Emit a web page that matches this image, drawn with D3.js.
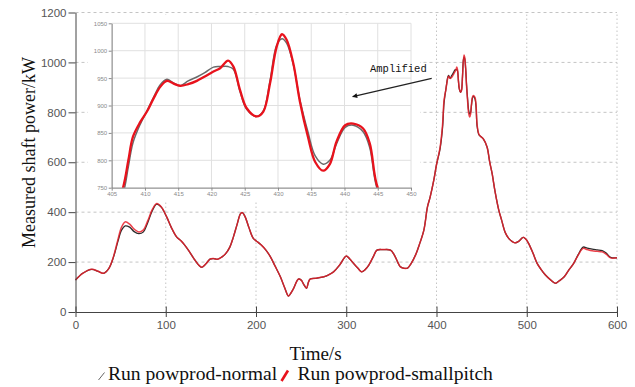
<!DOCTYPE html>
<html>
<head>
<meta charset="utf-8">
<script src="https://cdn.jsdelivr.net/npm/d3@7"></script>
<style>
  html, body { margin: 0; padding: 0; background: #fff; }
  svg { display: block; }
</style>
</head>
<body>
<svg id="chart" width="635" height="387"></svg>
<script>
// Time stamps (s) shared by both runs
const times = [
  0, 8, 18, 25, 31, 37, 42, 47, 51, 55,
  60, 65, 70, 75, 80, 85, 90, 95, 101, 106,
  112, 117, 121, 126, 131, 136, 140, 145, 149, 153,
  157, 162, 166, 171, 175, 179, 183, 185, 188, 192,
  197, 202, 206, 211, 216, 221, 227, 232, 236, 239,
  242, 245, 247, 250, 253, 256, 258, 260, 266, 275,
  280, 286, 293, 300, 304, 308, 313, 317, 321, 325,
  330, 334, 341, 349, 353, 357, 360, 364, 368, 372,
  377, 381, 386, 390, 393, 397, 400, 404, 406.7, 407.5,
  408.2, 409.3, 410.3, 411.3, 412.3, 413.3, 414.3, 415.3, 416.5, 417.8,
  419, 420.3, 421.3, 422.5, 423.3, 424.3, 425.3, 426.8, 427.8, 428.8,
  429.8, 430.6, 431.3, 432.3, 433.3, 434.5, 435.6, 436.8, 437.8, 438.8,
  440.1, 441.3, 442.8, 443.8, 445, 447, 449, 452, 456, 459,
  461.6, 465, 469, 472, 476, 480, 484, 487, 491, 496,
  499, 502, 507, 511.5, 516, 520.7, 526, 531.8, 536, 541,
  546, 552, 557, 562.5, 567, 572.5, 578, 583.6, 588, 592.8,
  600
];

// Measured shaft power (kW), run "powprod-normal"
const normalKW = [
  128, 155, 171, 163, 155, 175, 219, 283, 328, 345,
  340, 322, 314, 320, 358, 405, 432, 420, 381, 340,
  301, 285, 268, 243, 215, 190, 179, 195, 212, 214,
  211, 220, 232, 260, 301, 350, 395, 398, 381, 340,
  295, 280, 268, 248, 221, 185, 141, 95, 64, 78,
  97, 122, 132, 128, 110, 95, 118, 132, 135, 141,
  148, 161, 190, 224, 212, 195, 175, 161, 170, 188,
  222, 248, 250, 248, 230, 200, 181, 175, 176, 195,
  230, 270, 328, 421, 461, 528, 590, 655, 738, 788,
  832, 866, 890, 915, 938, 948, 941, 936, 945, 952,
  960, 970, 971, 971, 966, 925, 893, 880, 890, 945,
  1010, 1022, 1014, 975, 910, 852, 808, 793, 800, 830,
  860, 864, 852, 823, 745, 710, 703, 693, 661, 600,
  555, 480, 408, 370, 320, 295, 282, 277, 283, 299,
  292, 275, 235, 195, 170, 148, 130, 115, 125, 139,
  165, 195, 230, 260, 256, 252, 249, 246, 236, 219,
  217
];

// Measured shaft power (kW), run "powprod-smallpitch"
const smallpitchKW = [
  128, 155, 171, 163, 155, 175, 221, 290, 340, 361,
  352, 332, 321, 328, 365, 410, 435, 422, 381, 340,
  301, 285, 268, 243, 215, 190, 179, 195, 212, 214,
  211, 220, 232, 260, 301, 350, 395, 398, 381, 340,
  295, 280, 268, 248, 221, 185, 141, 95, 64, 78,
  97, 122, 132, 128, 110, 95, 118, 132, 135, 141,
  148, 161, 190, 224, 212, 195, 175, 161, 170, 188,
  222, 248, 250, 248, 230, 200, 181, 175, 176, 195,
  230, 270, 328, 421, 461, 528, 590, 661, 750, 800,
  843, 870, 889, 913, 934, 945, 940, 936, 939, 945,
  953, 962, 968, 982, 971, 928, 895, 880, 889, 940,
  1007, 1030, 1020, 977, 907, 843, 797, 781, 793, 834,
  864, 867, 858, 831, 750, 712, 703, 693, 661, 600,
  555, 480, 408, 370, 320, 295, 282, 277, 283, 299,
  292, 275, 235, 195, 170, 148, 130, 115, 125, 139,
  165, 195, 228, 255, 250, 245, 243, 241, 232, 217,
  217
];

const xTicks = [0, 100, 200, 300, 400, 500, 600];
const yTicks = [0, 200, 400, 600, 800, 1000, 1200];
const insetXTicks = [405, 410, 415, 420, 425, 430, 435, 440, 445, 450];
const insetYTicks = [750, 800, 850, 900, 950, 1000, 1050];
const seriesNames = ["Run powprod-normal", "Run powprod-smallpitch"];
const xTitle = "Time/s";
const yTitle = "Measured shaft power/kW";
const calloutText = "Amplified";

const normalPts = times.map((t, i) => ({ t, v: normalKW[i] }));
const smallPts = times.map((t, i) => ({ t, v: smallpitchKW[i] }));

const svg = d3.select("#chart");
const serif = "'Liberation Serif', 'Times New Roman', serif";
const sans = "'Liberation Sans', Arial, sans-serif";
const plain = d3.format("d");

// ---------- main panel ----------
const x = d3.scaleLinear().domain([0, 600]).range([75.5, 617]);
const y = d3.scaleLinear().domain([0, 1200]).range([312, 12.5]);

const grid = svg.append("g");
grid.selectAll("line.h").data(yTicks.filter(d => d > 0)).join("line")
  .attr("x1", x(0)).attr("x2", x(600))
  .attr("y1", d => y(d)).attr("y2", d => y(d))
  .attr("stroke", "#c4c4c4").attr("stroke-width", 1)
  .attr("stroke-dasharray", "3,3");
grid.selectAll("line.v").data(xTicks.filter(d => d > 0)).join("line")
  .attr("x1", d => x(d)).attr("x2", d => x(d))
  .attr("y1", y(0)).attr("y2", y(1200))
  .attr("stroke", "#c4c4c4").attr("stroke-width", 1)
  .attr("stroke-dasharray", "1.5,2.5");

const smooth = d3.curveCatmullRom.alpha(0.5);
const mainLine = d3.line().x(d => x(d.t)).y(d => y(d.v)).curve(smooth);
svg.append("path").datum(normalPts).attr("d", mainLine)
  .attr("fill", "none").attr("stroke", "#2b2b2b").attr("stroke-width", 1.3);
svg.append("path").datum(smallPts).attr("d", mainLine)
  .attr("fill", "none").attr("stroke", "#e8212b").attr("stroke-width", 1.5)
  .attr("stroke-opacity", 0.85);

// y axis
const yAxis = svg.append("g").attr("transform", `translate(${x(0)},0)`)
  .call(d3.axisLeft(y).tickValues(yTicks).tickFormat(plain)
    .tickSize(7).tickSizeOuter(0).tickPadding(2));
yAxis.select(".domain").attr("stroke", "#444");
yAxis.selectAll(".tick line").attr("stroke", "#444");
yAxis.selectAll(".tick text").attr("font-family", sans).attr("font-size", 11.5).attr("fill", "#555");

// x axis
const xAxis = svg.append("g").attr("transform", `translate(0,${y(0)})`)
  .call(d3.axisBottom(x).tickValues(xTicks).tickFormat(plain)
    .tickSize(5).tickSizeOuter(0).tickPadding(4));
xAxis.select(".domain").attr("stroke", "#444");
xAxis.selectAll(".tick line").attr("stroke", "#444").attr("y1", -5.5);
xAxis.selectAll(".tick text").attr("font-family", sans).attr("font-size", 11.5).attr("fill", "#555");

// ---------- inset (zoomed view 405–450 s) ----------
const ix = d3.scaleLinear().domain([405, 450]).range([111.7, 411]);
const iy = d3.scaleLinear().domain([750, 1050]).range([187.7, 23.3]);
const inset = svg.append("g");
inset.append("rect").attr("x", 88).attr("y", 15).attr("width", 332).attr("height", 186)
  .attr("fill", "#fff");

inset.selectAll("line.ivg").data(insetXTicks).join("line")
  .attr("x1", d => ix(d)).attr("x2", d => ix(d))
  .attr("y1", iy(750)).attr("y2", iy(1050))
  .attr("stroke", "#e0e0e0").attr("stroke-width", 1);
inset.selectAll("line.ihg").data(insetYTicks).join("line")
  .attr("x1", ix(405)).attr("x2", ix(450))
  .attr("y1", d => iy(d)).attr("y2", d => iy(d))
  .attr("stroke", "#e0e0e0").attr("stroke-width", 1);

svg.append("clipPath").attr("id", "insetClip").append("rect")
  .attr("x", ix(405)).attr("y", iy(1050))
  .attr("width", ix(450) - ix(405)).attr("height", iy(750) - iy(1050));

const insetLine = d3.line().x(d => ix(d.t)).y(d => iy(d.v)).curve(smooth);
const inWindow = d => d.t >= 400 && d.t <= 452;
const insetLines = inset.append("g").attr("clip-path", "url(#insetClip)");
insetLines.append("path").datum(normalPts.filter(inWindow)).attr("d", insetLine)
  .attr("fill", "none").attr("stroke", "#6a6a6a").attr("stroke-width", 1.5);
insetLines.append("path").datum(smallPts.filter(inWindow)).attr("d", insetLine)
  .attr("fill", "none").attr("stroke", "#e8121c").attr("stroke-width", 2.3);

const iyAxis = inset.append("g").attr("transform", `translate(${ix(405)},0)`)
  .call(d3.axisLeft(iy).tickValues(insetYTicks).tickFormat(plain)
    .tickSize(3).tickSizeOuter(0).tickPadding(1.5));
const ixAxis = inset.append("g").attr("transform", `translate(0,${iy(750)})`)
  .call(d3.axisBottom(ix).tickValues(insetXTicks).tickFormat(plain)
    .tickSize(3).tickSizeOuter(0).tickPadding(1.5));
[iyAxis, ixAxis].forEach(a => {
  a.select(".domain").attr("stroke", "#8a8a8a");
  a.selectAll(".tick line").attr("stroke", "#8a8a8a");
  a.selectAll(".tick text").attr("font-family", sans).attr("font-size", 6).attr("fill", "#8a8a8a");
});

// callout arrow
svg.append("defs").append("marker")
  .attr("id", "arrowHead").attr("viewBox", "0 0 10 10")
  .attr("refX", 9).attr("refY", 5).attr("markerWidth", 7).attr("markerHeight", 5)
  .attr("markerUnits", "userSpaceOnUse").attr("orient", "auto")
  .append("path").attr("d", "M0,0 L10,5 L0,10 Z").attr("fill", "#111");
svg.append("line")
  .attr("x1", 431.7).attr("y1", 78.3).attr("x2", 352.7).attr("y2", 96.7)
  .attr("stroke", "#222").attr("stroke-width", 1.2)
  .attr("marker-end", "url(#arrowHead)");
svg.append("text").attr("x", 370).attr("y", 71.5)
  .attr("font-family", "'Liberation Mono', 'Courier New', monospace")
  .attr("font-size", 10.5).attr("fill", "#111").text(calloutText);

// ---------- titles ----------
svg.append("text").attr("x", 315.5).attr("y", 360).attr("text-anchor", "middle")
  .attr("font-family", serif).attr("font-size", 19).attr("fill", "#111").text(xTitle);
svg.append("text").attr("transform", "translate(34.5,152.5) rotate(-90)")
  .attr("text-anchor", "middle")
  .attr("font-family", serif).attr("font-size", 18).attr("fill", "#111").text(yTitle);

// ---------- legend ----------
const legend = svg.append("g");
legend.append("line").attr("x1", 98.5).attr("y1", 380).attr("x2", 104.5).attr("y2", 372.5)
  .attr("stroke", "#666").attr("stroke-width", 1);
legend.append("text").attr("x", 108).attr("y", 380)
  .attr("font-family", serif).attr("font-size", 19.6).attr("fill", "#111").text(seriesNames[0]);
legend.append("line").attr("x1", 281.5).attr("y1", 381).attr("x2", 288).attr("y2", 370.5)
  .attr("stroke", "#e8121c").attr("stroke-width", 2.6);
legend.append("text").attr("x", 297.5).attr("y", 380)
  .attr("font-family", serif).attr("font-size", 19.6).attr("fill", "#111").text(seriesNames[1]);
</script>
</body>
</html>
